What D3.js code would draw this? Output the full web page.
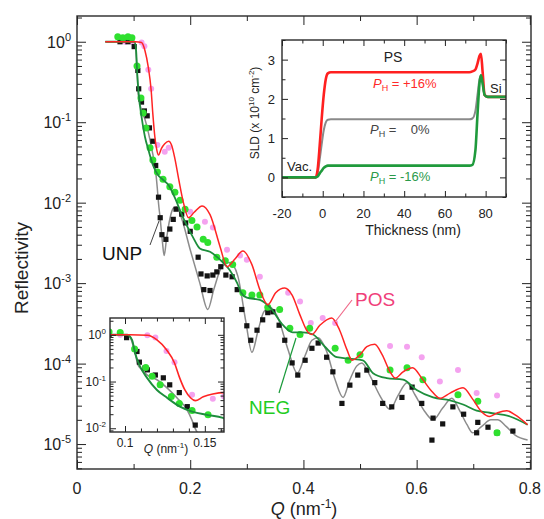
<!DOCTYPE html>
<html><head><meta charset="utf-8">
<script src="https://cdn.jsdelivr.net/npm/d3@7"></script>
<style>
body{margin:0;background:#fff;}
svg{font-family:"Liberation Sans",Arial,Helvetica,sans-serif;}
</style></head><body>
<svg id="c" width="544" height="519"></svg>
<script>
// ---------------- DATA ----------------
// Fits (lines): Q in nm^-1, reflectivity R
const posFitQ = [0.05,0.09,0.103,0.114,0.12,0.126,0.131,0.134,0.1375,0.141,0.144,0.149,0.155,0.162,0.167,0.173,0.18,0.188,0.197,0.207,0.221,0.235,0.253,0.265,0.279,0.293,0.309,0.323,0.337,0.351,0.367,0.38,0.394,0.408,0.415,0.429,0.45,0.464,0.477,0.486,0.5,0.512,0.526,0.539,0.553,0.562,0.576,0.593,0.609,0.627,0.641,0.659,0.682,0.698,0.715,0.729,0.743,0.759,0.774,0.796];
const posFitR = [1,1,1,0.98,0.78,0.48,0.25,0.126,0.066,0.045,0.039,0.047,0.054,0.058,0.052,0.035,0.019,0.01,0.0065,0.0076,0.0091,0.0071,0.0028,0.0016,0.002,0.0025,0.0017,8.3e-4,5.4e-4,7.6e-4,8.7e-4,7.1e-4,4.0e-4,2.45e-4,2.3e-4,3.0e-4,3.7e-4,2.6e-4,1.48e-4,1.1e-4,1.29e-4,1.62e-4,1.74e-4,1.29e-4,7.9e-5,6.6e-5,7.9e-5,8.9e-5,6.6e-5,4.5e-5,3.7e-5,4.3e-5,5.0e-5,3.7e-5,2.5e-5,2.2e-5,2.45e-5,2.6e-5,2.3e-5,1.74e-5];

const unpFitQ = [0.05,0.0906,0.1013,0.1031,0.1063,0.1081,0.1106,0.1138,0.12,0.1263,0.1325,0.1388,0.1419,0.1438,0.147,0.151,0.154,0.158,0.164,0.17,0.176,0.185,0.2,0.217,0.231,0.242,0.256,0.27,0.284,0.298,0.309,0.32,0.33,0.341,0.355,0.373,0.389,0.403,0.415,0.426,0.44,0.456,0.47,0.482,0.494,0.503,0.517,0.535,0.553,0.567,0.583,0.597,0.615,0.629,0.646,0.662,0.676,0.689,0.699,0.715,0.731,0.743,0.758,0.774,0.796];
const unpFitR = [1,1,1,0.91,0.41,0.23,0.178,0.139,0.109,0.073,0.045,0.025,0.015,0.0102,0.0063,0.0032,0.0022,0.0035,0.0063,0.0085,0.0089,0.0063,0.0026,0.001,4.7e-4,8.5e-4,0.0016,0.0018,0.00123,3.4e-4,1.38e-4,2.6e-4,4.4e-4,5.0e-4,3.7e-4,1.48e-4,7.6e-5,1.26e-4,1.95e-4,2.1e-4,1.48e-4,6.3e-5,3.8e-5,6.3e-5,9.3e-5,1.02e-4,7.2e-5,4.0e-5,2.7e-5,4.0e-5,5.8e-5,4.1e-5,2.5e-5,2.0e-5,2.8e-5,3.7e-5,2.6e-5,1.74e-5,1.38e-5,1.66e-5,2.0e-5,2.0e-5,1.66e-5,1.29e-5,1.12e-5];

const negFitQ = [0.05,0.0906,0.1013,0.1044,0.1063,0.1094,0.1138,0.12,0.1263,0.1344,0.1425,0.1513,0.1613,0.173,0.187,0.205,0.217,0.235,0.258,0.27,0.283,0.29,0.3,0.323,0.341,0.364,0.381,0.399,0.417,0.438,0.459,0.482,0.505,0.523,0.547,0.576,0.6,0.629,0.659,0.682,0.706,0.729,0.765,0.796];
const negFitR = [1,1,1,0.78,0.41,0.21,0.12,0.066,0.045,0.029,0.0224,0.0194,0.0167,0.0115,0.0066,0.0037,0.0027,0.00245,0.0018,0.00145,0.001,7.6e-4,6.6e-4,6.2e-4,5.0e-4,3.0e-4,2.45e-4,2.45e-4,2.3e-4,1.62e-4,1.2e-4,1.15e-4,1.1e-4,7.6e-5,6.6e-5,6.3e-5,4.7e-5,3.8e-5,3.5e-5,3.1e-5,2.6e-5,2.45e-5,2.2e-5,1.74e-5];

// Measured data (markers)
const unpQ = [0.076,0.090,0.101,0.1075,0.109,0.1125,0.114,0.119,0.124,0.128,0.134,0.139,0.144,0.147,0.150,0.157,0.164,0.170,0.175,0.185,0.192,0.2,0.214,0.219,0.224,0.230,0.235,0.240,0.247,0.254,0.263,0.274,0.283,0.291,0.300,0.307,0.318,0.328,0.337,0.346,0.357,0.367,0.380,0.390,0.403,0.415,0.426,0.441,0.452,0.468,0.482,0.496,0.512,0.526,0.540,0.556,0.574,0.592,0.609,0.627,0.629,0.646,0.664,0.683,0.706,0.708,0.726,0.742,0.770];
const unpR = [1.0,1.0,0.87,0.44,0.26,0.195,0.178,0.138,0.12,0.085,0.058,0.029,0.0117,0.0065,0.004,0.0035,0.0047,0.0062,0.0083,0.0072,0.0056,0.0044,0.0021,0.0013,8.3e-4,0.00123,8.1e-4,0.00126,0.00138,0.0016,0.00126,0.0012,8.3e-4,4.7e-4,2.95e-4,1.95e-4,2.6e-4,3.5e-4,4.3e-4,4.4e-4,3.0e-4,1.95e-4,1.02e-4,7.2e-5,1.1e-4,1.55e-4,1.8e-4,1.2e-4,7.9e-5,3.2e-5,5.4e-5,7.2e-5,8.3e-5,5.8e-5,3.2e-5,2.9e-5,3.8e-5,5.1e-5,3.2e-5,1.12e-5,2.1e-5,1.78e-5,2.9e-5,2.35e-5,1.38e-5,1.86e-5,1.62e-5,1.38e-5,1.45e-5];

const negQ = [0.072,0.081,0.090,0.097,0.106,0.113,0.117,0.122,0.129,0.134,0.142,0.152,0.164,0.173,0.182,0.191,0.203,0.212,0.223,0.231,0.247,0.262,0.275,0.293,0.309,0.323,0.337,0.358,0.376,0.394,0.411,0.456,0.479,0.500,0.553,0.583,0.611,0.673,0.708,0.742];
const negR = [1.15,1.12,1.15,1.12,0.5,0.2,0.13,0.085,0.048,0.034,0.024,0.0195,0.0158,0.0135,0.0107,0.0083,0.006,0.005,0.0035,0.0032,0.0021,0.0019,0.0017,7.6e-4,7.1e-4,7.1e-4,5.0e-4,4.7e-4,2.75e-4,2.3e-4,2.75e-4,1.55e-4,1.1e-4,1.29e-4,8.3e-5,8.9e-5,6.3e-5,4.1e-5,3.4e-5,1.38e-5];

const posQ = [0.085,0.097,0.114,0.119,0.126,0.131,0.142,0.155,0.162,0.2,0.226,0.240,0.265,0.288,0.3,0.323,0.373,0.394,0.413,0.434,0.456,0.553,0.583,0.609,0.641,0.673,0.706,0.742];
const posR = [1.0,1.0,0.98,0.88,0.45,0.26,0.052,0.043,0.048,0.0077,0.0058,0.0049,0.0026,0.0022,0.00195,0.0012,7.6e-4,5.9e-4,3.2e-4,3.7e-4,3.2e-4,1.66e-4,1.62e-4,1.2e-4,6.0e-5,8.3e-5,4.3e-5,4.0e-5];

// SLD profiles (inset, top right)
const sldZ     = [-20,-3.5,-2.5,-1.5,-0.5,0.5,1.5,2.5,4,72,73.5,75,76,77,77.7,78.5,79.5,81,90];
const sldPos   = [0,0,0.2,0.8,1.5,2.1,2.5,2.65,2.68,2.68,2.7,2.75,2.9,3.1,3.15,2.7,2.1,2.05,2.05];
const sldZero  = [0,0,0.1,0.45,0.85,1.2,1.4,1.47,1.48,1.48,1.5,1.7,2.1,2.5,2.6,2.4,2.1,2.05,2.05];
const sldNeg   = [0,0,0.02,0.1,0.17,0.24,0.28,0.3,0.3,0.3,0.32,0.7,1.6,2.4,2.6,2.4,2.1,2.05,2.05];

// Tick values / labels
const mainXTicks = [0,0.2,0.4,0.6,0.8];
const mainXLabels = ["0","0.2","0.4","0.6","0.8"];
const mainXMinor = [0.1,0.3,0.5,0.7];
const mainYExps = [0,-1,-2,-3,-4,-5];
const insXTicks = [0.1,0.15];
const insXLabels = ["0.1","0.15"];
const insXMinor = [0.11,0.12,0.13,0.14,0.16];
const insYExps = [0,-1,-2];
const sldXTicks = [-20,0,20,40,60,80];
const sldXMinor = [-10,10,30,50,70,90];
const sldYTicks = [0,1,2,3];
const sldYMinor = [-0.5,0.5,1.5,2.5,3.5];

// ---------------- DRAW ----------------
const svg = d3.select("#c");
const zip = (a,b)=>a.map((v,i)=>[v,b[i]]);
const C = {red:"#ff2424", gray:"#8c8c8c", green:"#1d8e3c", gdot:"#2fe02f", pink:"#f4a2ef", sq:"#141414"};

function logMinors(lo,hi){const o=[];for(let e=lo;e<=hi;e++)for(let m=2;m<=9;m++)o.push(m*Math.pow(10,e));return o;}

function tickAxis(g, axis, scale, vals, size, tx, ty){
  const a = g.append("g").attr("transform",`translate(${tx},${ty})`)
    .call(axis(scale).tickValues(vals).tickSize(size).tickFormat(""));
  a.select(".domain").remove();
  a.selectAll("line").attr("stroke","#222").attr("stroke-width",1);
}

function frameTicks(g, xs, ys, xMaj, xMin, yMaj, yMin, big, small){
  const [x0,x1]=xs.range(), [y0,y1]=ys.range();
  tickAxis(g,d3.axisBottom,xs,xMaj,-big,0,y0);
  tickAxis(g,d3.axisBottom,xs,xMin,-small,0,y0);
  tickAxis(g,d3.axisTop,xs,xMaj,-big,0,y1);
  tickAxis(g,d3.axisTop,xs,xMin,-small,0,y1);
  tickAxis(g,d3.axisLeft,ys,yMaj,-big,x0,0);
  tickAxis(g,d3.axisLeft,ys,yMin,-small,x0,0);
  tickAxis(g,d3.axisRight,ys,yMaj,-big,x1,0);
  tickAxis(g,d3.axisRight,ys,yMin,-small,x1,0);
  g.append("rect").attr("x",x0).attr("y",y1).attr("width",x1-x0).attr("height",y0-y1)
    .attr("fill","none").attr("stroke","#2a2a2a").attr("stroke-width",1.4);
}

function drawReflect(g, xs, ys, clipId, lw, ms){
  const [x0,x1]=xs.range(), [y0,y1]=ys.range();
  svg.append("defs").append("clipPath").attr("id",clipId)
    .append("rect").attr("x",x0).attr("y",y1).attr("width",x1-x0).attr("height",y0-y1);
  const body = g.append("g").attr("clip-path",`url(#${clipId})`);
  const line = d3.line().x(d=>xs(d[0])).y(d=>ys(d[1])).curve(d3.curveMonotoneX);
  body.append("g").selectAll("circle").data(zip(posQ,posR)).join("circle")
    .attr("cx",d=>xs(d[0])).attr("cy",d=>ys(d[1])).attr("r",3*ms).attr("fill",C.pink);
  body.append("path").datum(zip(unpFitQ,unpFitR)).attr("d",line)
    .attr("fill","none").attr("stroke",C.gray).attr("stroke-width",lw);
  body.append("g").selectAll("rect").data(zip(unpQ,unpR)).join("rect")
    .attr("x",d=>xs(d[0])-2.6*ms).attr("y",d=>ys(d[1])-2.6*ms)
    .attr("width",5.2*ms).attr("height",5.2*ms).attr("fill",C.sq);
  body.append("g").selectAll("circle").data(zip(negQ,negR)).join("circle")
    .attr("cx",d=>xs(d[0])).attr("cy",d=>ys(d[1])).attr("r",3.5*ms).attr("fill",C.gdot);
  body.append("path").datum(zip(negFitQ,negFitR)).attr("d",line)
    .attr("fill","none").attr("stroke",C.green).attr("stroke-width",lw+0.3);
  body.append("path").datum(zip(posFitQ,posFitR)).attr("d",line)
    .attr("fill","none").attr("stroke",C.red).attr("stroke-width",lw);
}

function powLabel(g, xx, yy, exp, fs, sfs, dy){
  const t = g.append("text").attr("x",xx).attr("y",yy).attr("text-anchor","end")
    .attr("font-size",fs).attr("fill","#222");
  t.append("tspan").text("10");
  t.append("tspan").attr("dy",-dy).attr("font-size",sfs).text(exp===0?"0":"-"+Math.abs(exp));
}

// ----- main plot -----
const x = d3.scaleLinear().domain([0,0.802]).range([77,531]);
const y = d3.scaleLog().domain([Math.pow(10,-5.31),Math.pow(10,0.32)]).range([469,16]);
const gMain = svg.append("g");
drawReflect(gMain, x, y, "clipMain", 1.5, 1);
frameTicks(gMain, x, y, mainXTicks, mainXMinor, mainYExps.map(e=>Math.pow(10,e)), logMinors(-6,0).filter(v=>v>y.domain()[0]&&v<y.domain()[1]), 9, 5);
mainXTicks.forEach((v,i)=>gMain.append("text").attr("x",x(v)).attr("y",494).attr("text-anchor","middle")
  .attr("font-size",16).attr("fill","#222").text(mainXLabels[i]));
mainYExps.forEach(e=>powLabel(gMain,71,y(Math.pow(10,e))+6,e,16,11,7));
gMain.append("text").attr("transform","translate(28,268) rotate(-90)").attr("text-anchor","middle")
  .attr("font-size",19).attr("fill","#222").text("Reflectivity");
{
  const t = gMain.append("text").attr("x",304).attr("y",515).attr("text-anchor","middle").attr("font-size",18).attr("fill","#222");
  t.append("tspan").attr("font-style","italic").text("Q");
  t.append("tspan").text(" (nm");
  t.append("tspan").attr("dy",-7).attr("font-size",12).text("-1");
  t.append("tspan").attr("dy",7).text(")");
}
// series labels
gMain.append("line").attr("x1",150).attr("y1",245).attr("x2",159).attr("y2",221).attr("stroke","#444").attr("stroke-width",1);
gMain.append("text").attr("x",102).attr("y",260).attr("font-size",19).attr("fill","#111").text("UNP");
gMain.append("line").attr("x1",352).attr("y1",300).attr("x2",335).attr("y2",322).attr("stroke","#f06888").attr("stroke-width",1.2);
gMain.append("text").attr("x",355).attr("y",306).attr("font-size",19).attr("fill","#f0407a").text("POS");
gMain.append("line").attr("x1",279).attr("y1",393).attr("x2",296).attr("y2",338).attr("stroke","#1a9a3a").attr("stroke-width",1.2);
gMain.append("text").attr("x",249).attr("y",414).attr("font-size",19).attr("fill","#22cc22").text("NEG");

// ----- inset: low-Q zoom -----
const xi = d3.scaleLinear().domain([0.0906,0.162]).range([110,224]);
const yi = d3.scaleLog().domain([Math.pow(10,-2.08),Math.pow(10,0.36)]).range([432,318]);
const gIn = svg.append("g");
gIn.append("rect").attr("x",110).attr("y",318).attr("width",114).attr("height",114).attr("fill","#fff");
drawReflect(gIn, xi, yi, "clipIn", 1.6, 1);
frameTicks(gIn, xi, yi, insXTicks, insXMinor, insYExps.map(e=>Math.pow(10,e)), logMinors(-3,0).filter(v=>v>yi.domain()[0]&&v<yi.domain()[1]), 6, 3.5);
insXTicks.forEach((v,i)=>gIn.append("text").attr("x",xi(v)).attr("y",447).attr("text-anchor","middle")
  .attr("font-size",12).attr("fill","#222").text(insXLabels[i]));
insYExps.forEach(e=>powLabel(gIn,106,yi(Math.pow(10,e))+4,e,12,8,5));
{
  const t = gIn.append("text").attr("x",166).attr("y",453).attr("text-anchor","middle").attr("font-size",12).attr("fill","#222");
  t.append("tspan").attr("font-style","italic").text("Q");
  t.append("tspan").text(" (nm");
  t.append("tspan").attr("dy",-5).attr("font-size",8).text("-1");
  t.append("tspan").attr("dy",5).text(")");
}

// ----- inset: SLD profile -----
const xs2 = d3.scaleLinear().domain([-20,90]).range([282,506]);
const ys2 = d3.scaleLinear().domain([-0.5,3.5]).range([197,40]);
const gS = svg.append("g");
gS.append("rect").attr("x",282).attr("y",40).attr("width",224).attr("height",157).attr("fill","#fff");
svg.append("defs").append("clipPath").attr("id","clipS").append("rect").attr("x",282).attr("y",40).attr("width",224).attr("height",157);
const sl = d3.line().x(d=>xs2(d[0])).y(d=>ys2(d[1])).curve(d3.curveMonotoneX);
const gSb = gS.append("g").attr("clip-path","url(#clipS)");
gSb.append("path").datum(zip(sldZ,sldZero)).attr("d",sl).attr("fill","none").attr("stroke","#8a8a8a").attr("stroke-width",2);
gSb.append("path").datum(zip(sldZ,sldPos)).attr("d",sl).attr("fill","none").attr("stroke","#ff2020").attr("stroke-width",2.6);
gSb.append("path").datum(zip(sldZ,sldNeg)).attr("d",sl).attr("fill","none").attr("stroke","#1f9a3c").attr("stroke-width",2.6);
frameTicks(gS, xs2, ys2, sldXTicks, sldXMinor, sldYTicks, sldYMinor, 6, 3.5);
sldXTicks.forEach(v=>gS.append("text").attr("x",xs2(v)).attr("y",218).attr("text-anchor","middle")
  .attr("font-size",13).attr("fill","#222").text(v));
sldYTicks.forEach(v=>gS.append("text").attr("x",275).attr("y",ys2(v)+5).attr("text-anchor","end")
  .attr("font-size",13).attr("fill","#222").text(v));
gS.append("text").attr("x",413).attr("y",235).attr("text-anchor","middle").attr("font-size",14).attr("fill","#222").text("Thickness (nm)");
{
  const t = gS.append("text").attr("transform","translate(259,113) rotate(-90)").attr("text-anchor","middle").attr("font-size",12).attr("fill","#222");
  t.append("tspan").text("SLD (x 10");
  t.append("tspan").attr("dy",-5).attr("font-size",8).text("10");
  t.append("tspan").attr("dy",5).text(" cm");
  t.append("tspan").attr("dy",-5).attr("font-size",8).text("-2");
  t.append("tspan").attr("dy",5).text(")");
}
gS.append("text").attr("x",393).attr("y",62).attr("text-anchor","middle").attr("font-size",14).attr("fill","#222").text("PS");
gS.append("text").attr("x",287).attr("y",171).attr("font-size",13).attr("fill","#222").text("Vac.");
gS.append("text").attr("x",490).attr("y",93).attr("font-size",13).attr("fill","#222").text("Si");
function phLabel(xx,yy,val,col){
  const t = gS.append("text").attr("x",xx).attr("y",yy).attr("font-size",13).attr("fill",col).style("white-space","pre");
  t.append("tspan").attr("font-style","italic").text("P");
  t.append("tspan").attr("dy",3).attr("font-size",9).text("H");
  t.append("tspan").attr("dy",-3).text(" = "+val);
}
phLabel(373,88,"+16%","#ff2a2a");
phLabel(370,134,"   0%","#444");
phLabel(370,181,"-16%","#2a9a4a");
</script>
</body></html>
